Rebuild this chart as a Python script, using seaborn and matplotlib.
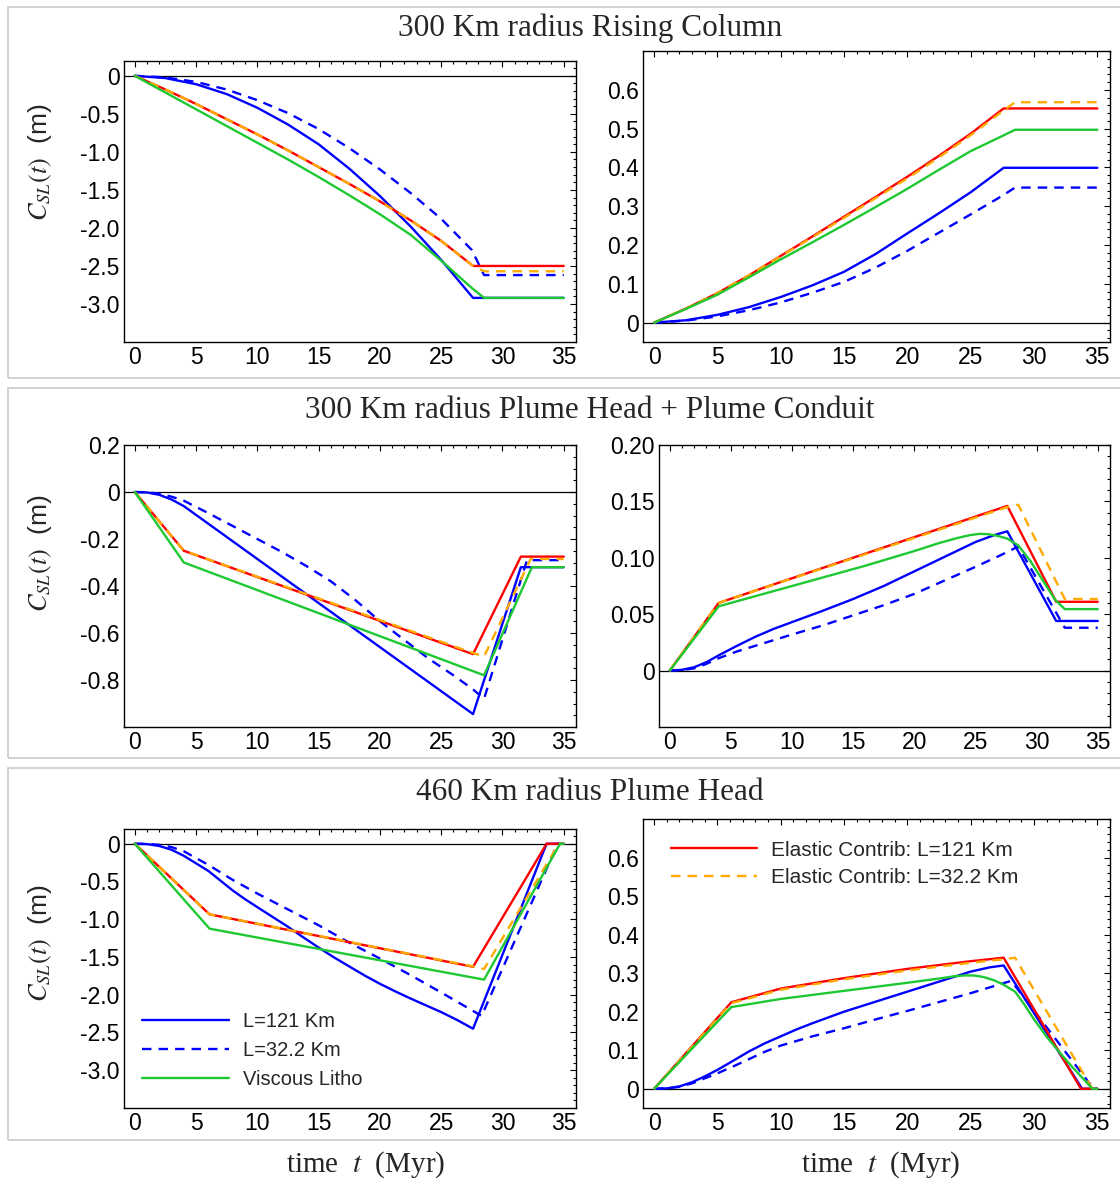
import numpy as np
import pandas as pd
import matplotlib
matplotlib.use("Agg")
import matplotlib.pyplot as plt
import seaborn as sns
from matplotlib.ticker import MultipleLocator, FixedLocator, FuncFormatter
from matplotlib.patches import Rectangle

# ---------------- data ----------------

titles = ["300 Km radius Rising Column",
          "300 Km radius Plume Head + Plume Conduit",
          "460 Km radius Plume Head"]

x_ticks = [0, 5, 10, 15, 20, 25, 30, 35]

# --- row 1 left : Rising Column, total signal
A_blue_t = [0, 2.5, 5, 7.5, 10, 12.5, 15, 17.5, 20, 22.5, 25, 27.6, 35]
A_blue = [0, -0.03, -0.11, -0.24, -0.42, -0.64, -0.9, -1.22, -1.58, -1.98, -2.42, -2.92, -2.92]
A_bdash_t = [0, 2.5, 5, 7.5, 10, 12.5, 15, 17.5, 20, 22.5, 25, 27.5, 28.5, 35]
A_bdash = [0, -0.02, -0.08, -0.18, -0.32, -0.49, -0.7, -0.95, -1.23, -1.54, -1.88, -2.29, -2.62, -2.62]
A_red_t = [0, 2.5, 5, 7.5, 10, 12.5, 15, 17.5, 20, 22.5, 25, 27.6, 35]
A_red = [0, -0.18, -0.37, -0.57, -0.77, -0.98, -1.2, -1.42, -1.65, -1.9, -2.17, -2.5, -2.5]
A_orng_t = [0, 2.5, 5, 7.5, 10, 12.5, 15, 17.5, 20, 22.5, 25, 27.6, 28.5, 35]
A_orng = [0, -0.18, -0.37, -0.57, -0.77, -0.98, -1.2, -1.42, -1.65, -1.9, -2.17, -2.5, -2.57, -2.57]
A_grn_t = [0, 2.5, 5, 7.5, 10, 12.5, 15, 17.5, 20, 22.5, 25, 27.5, 28.5, 35]
A_grn = [0, -0.22, -0.44, -0.66, -0.88, -1.1, -1.33, -1.57, -1.82, -2.09, -2.43, -2.79, -2.92, -2.92]
A_yticks = [0, -0.5, -1.0, -1.5, -2.0, -2.5, -3.0]

# --- row 1 right : Rising Column, elastic part
B_blue_t = [0, 2.5, 5, 7.5, 10, 12.5, 15, 17.5, 20, 22.5, 25, 27.6, 35]
B_blue = [0, 0.006, 0.02, 0.04, 0.066, 0.096, 0.131, 0.177, 0.23, 0.282, 0.336, 0.399, 0.399]
B_bdash_t = [0, 2.5, 5, 7.5, 10, 12.5, 15, 17.5, 20, 22.5, 25, 27.5, 28.5, 35]
B_bdash = [0, 0.005, 0.016, 0.032, 0.052, 0.077, 0.105, 0.142, 0.185, 0.232, 0.279, 0.327, 0.348, 0.348]
B_red_t = [0, 2.5, 5, 7.5, 10, 12.5, 15, 17.5, 20, 22.5, 25, 27.6, 35]
B_red = [0, 0.036, 0.076, 0.122, 0.172, 0.222, 0.273, 0.324, 0.376, 0.43, 0.487, 0.552, 0.552]
B_orng_t = [0, 2.5, 5, 7.5, 10, 12.5, 15, 17.5, 20, 22.5, 25, 27.6, 28.5, 35]
B_orng = [0, 0.036, 0.076, 0.122, 0.171, 0.22, 0.27, 0.321, 0.372, 0.426, 0.483, 0.547, 0.568, 0.568]
B_grn_t = [0, 2.5, 5, 7.5, 10, 12.5, 15, 17.5, 20, 22.5, 25, 27.5, 28.5, 35]
B_grn = [0, 0.035, 0.072, 0.117, 0.163, 0.207, 0.252, 0.298, 0.345, 0.394, 0.442, 0.481, 0.497, 0.497]
B_yticks = [0, 0.1, 0.2, 0.3, 0.4, 0.5, 0.6]

# --- row 2 left : Plume Head + Conduit, total signal
C_blue_t = [0, 1, 2, 3, 4, 27.6, 31.5, 35]
C_blue = [0, -0.002, -0.012, -0.032, -0.06, -0.945, -0.32, -0.32]
C_bdash_t = [0, 1, 2, 3, 4, 6, 8, 10, 12, 14, 16, 18, 20, 22, 24, 26, 27.6, 28.5, 32, 35]
C_bdash = [0, -0.001, -0.007, -0.02, -0.037, -0.09, -0.145, -0.2, -0.255, -0.315, -0.38, -0.46, -0.55, -0.63, -0.71, -0.78, -0.84, -0.88, -0.29, -0.29]
C_red_t = [0, 4, 27.6, 31.5, 35]
C_red = [0, -0.25, -0.69, -0.275, -0.275]
C_orng_t = [0, 4, 27.6, 28.5, 32.3, 35]
C_orng = [0, -0.25, -0.685, -0.70, -0.285, -0.285]
C_grn_t = [0, 4, 28.5, 32.4, 35]
C_grn = [0, -0.30, -0.78, -0.32, -0.32]
C_yticks = [0.2, 0, -0.2, -0.4, -0.6, -0.8]

# --- row 2 right : Plume Head + Conduit, elastic part
D_blue_t = [0, 1, 2, 3, 4, 5.5, 7, 8.5, 10, 12.5, 15, 17.5, 20, 22.5, 25, 26.5, 27.6, 31.6, 35]
D_blue = [0, 0.0007, 0.003, 0.0075, 0.0135, 0.022, 0.03, 0.037, 0.043, 0.053, 0.0635, 0.075, 0.088, 0.101, 0.114, 0.12, 0.1235, 0.044, 0.044]
D_bdash_t = [0, 1, 2, 3, 4, 5.5, 7, 8.5, 10, 12.5, 15, 17.5, 20, 22.5, 25, 27, 28.5, 32.3, 35]
D_bdash = [0, 0.0005, 0.002, 0.006, 0.011, 0.017, 0.022, 0.027, 0.032, 0.04, 0.049, 0.058, 0.068, 0.08, 0.092, 0.102, 0.110, 0.038, 0.038]
D_red_t = [0, 4, 27.6, 31.6, 35]
D_red = [0, 0.060, 0.146, 0.061, 0.061]
D_orng_t = [0, 4, 27.6, 28.5, 32.3, 35]
D_orng = [0, 0.060, 0.145, 0.147, 0.0635, 0.0635]
D_grn_t = [0, 4, 8, 12, 16, 20, 22, 23.5, 24.5, 25.3, 26, 26.8, 27.6, 28.5, 29.5, 30.5, 31.5, 32.3, 35]
D_grn = [0, 0.057, 0.069, 0.081, 0.093, 0.106, 0.113, 0.1175, 0.1200, 0.1212, 0.1210, 0.1195, 0.117, 0.111, 0.097, 0.080, 0.063, 0.0545, 0.0545]
D_yticks = [0, 0.05, 0.10, 0.15, 0.20]

# --- row 3 left : Plume Head, total signal
E_blue_t = [0, 1, 2, 3, 4, 5, 6, 7, 8, 9, 10, 11.25, 12.5, 13.75, 15, 16.25, 17.5, 18.75, 20, 21.25, 22.5, 23.75, 25, 26.25, 27.6, 33.6, 35]
E_blue = [0, -0.005, -0.03, -0.08, -0.16, -0.26, -0.36, -0.49, -0.62, -0.735, -0.84, -0.97, -1.1, -1.24, -1.375, -1.505, -1.625, -1.745, -1.855, -1.955, -2.05, -2.14, -2.23, -2.33, -2.45, 0, 0]
E_bdash_t = [0, 1, 2, 3, 4, 5, 6, 7, 8, 9, 10, 11.25, 12.5, 13.75, 15, 17.5, 20, 22.5, 25, 28.3, 34.5, 35]
E_bdash = [0, -0.003, -0.015, -0.045, -0.10, -0.19, -0.28, -0.38, -0.48, -0.57, -0.66, -0.765, -0.87, -0.975, -1.08, -1.31, -1.52, -1.74, -1.97, -2.28, 0, 0]
E_red_t = [0, 6.1, 27.6, 33.6, 35]
E_red = [0, -0.935, -1.63, 0, 0]
E_orng_t = [0, 6.1, 27.6, 28.5, 34.6, 35]
E_orng = [0, -0.935, -1.625, -1.66, 0, 0]
E_grn_t = [0, 6.1, 28.5, 34.7, 35]
E_grn = [0, -1.125, -1.80, 0, 0]
E_yticks = [0, -0.5, -1.0, -1.5, -2.0, -2.5, -3.0]

# --- row 3 right : Plume Head, elastic part
F_blue_t = [0, 1, 2, 3, 4, 5, 6, 7.5, 8.75, 10, 11.25, 12.5, 15, 17.5, 20, 22.5, 25, 26.5, 27.6, 33.8, 35]
F_blue = [0, 0.001, 0.006, 0.017, 0.032, 0.049, 0.068, 0.097, 0.118, 0.136, 0.154, 0.17, 0.2, 0.226, 0.252, 0.278, 0.304, 0.315, 0.32, 0, 0]
F_bdash_t = [0, 1, 2, 3, 4, 5, 6.25, 7.5, 8.75, 10, 12.5, 15, 17.5, 20, 22.5, 25, 28.2, 34.7, 35]
F_bdash = [0, 0.001, 0.005, 0.014, 0.027, 0.04, 0.058, 0.077, 0.096, 0.112, 0.136, 0.157, 0.18, 0.202, 0.225, 0.248, 0.28, 0, 0]
F_red_t = [0, 6.1, 10, 15, 20, 25, 27.6, 33.7, 35]
F_red = [0, 0.2245, 0.26, 0.287, 0.311, 0.331, 0.340, 0, 0]
F_orng_t = [0, 6.1, 10, 15, 20, 25, 27.6, 28.5, 34.6, 35]
F_orng = [0, 0.222, 0.257, 0.284, 0.307, 0.327, 0.336, 0.34, 0, 0]
F_grn_t = [0, 6.1, 10, 15, 20, 22.5, 23.75, 24.5, 25.25, 26, 26.8, 27.6, 28.5, 29.25, 30, 31, 32, 33, 34, 34.6, 35]
F_grn = [0, 0.212, 0.233, 0.254, 0.275, 0.286, 0.292, 0.294, 0.294, 0.29, 0.282, 0.27, 0.252, 0.218, 0.18, 0.135, 0.095, 0.057, 0.022, 0, 0]
F_yticks = [0, 0.1, 0.2, 0.3, 0.4, 0.5, 0.6]

legend_left = ["L=121 Km", "L=32.2 Km", "Viscous Litho"]
legend_right = ["Elastic Contrib: L=121 Km", "Elastic Contrib: L=32.2 Km"]

# ---------------- style ----------------
sns.set_theme(style="white")
plt.rcParams['font.family'] = ['Liberation Sans', 'DejaVu Sans']
plt.rcParams['mathtext.fontset'] = 'stix'
plt.rcParams['axes.unicode_minus'] = False

BLUE = "#0000ff"
RED = "#ff0000"
ORANGE = "#ffaa00"
GREEN = "#1ec832"
DASH = (0, (4, 3))
LW = 1.7

W, H = 1120, 1184
fig = plt.figure(figsize=(W / 100, H / 100), dpi=100)


def box(x0, y0, x1, y1):
    # pixel coords (top-left origin) -> figure fraction
    return [x0 / W, 1 - y1 / H, (x1 - x0) / W, (y1 - y0) / H]


# grey panel frames
for top, bot in [(7, 378), (388, 758), (768, 1140)]:
    fig.patches.append(Rectangle((8 / W, 1 - bot / H), 1.2, (bot - top) / H,
                                 transform=fig.transFigure, fill=False,
                                 edgecolor="#cfcfcf", lw=1.3))

panels = [
    (box(124, 61, 576, 342), (A_blue_t, A_blue), (A_bdash_t, A_bdash), (A_red_t, A_red),
     (A_orng_t, A_orng), (A_grn_t, A_grn), (-3.5, 0.195), A_yticks, 0.1, 1),
    (box(643, 51, 1110, 342), (B_blue_t, B_blue), (B_bdash_t, B_bdash), (B_red_t, B_red),
     (B_orng_t, B_orng), (B_grn_t, B_grn), (-0.05, 0.70), B_yticks, 0.02, 1),
    (box(124, 445, 576, 727), (C_blue_t, C_blue), (C_bdash_t, C_bdash), (C_red_t, C_red),
     (C_orng_t, C_orng), (C_grn_t, C_grn), (-1.0, 0.2), C_yticks, 0.05, 1),
    (box(659, 445, 1110, 727), (D_blue_t, D_blue), (D_bdash_t, D_bdash), (D_red_t, D_red),
     (D_orng_t, D_orng), (D_grn_t, D_grn), (-0.05, 0.20), D_yticks, 0.01, 2),
    (box(124, 829, 576, 1108), (E_blue_t, E_blue), (E_bdash_t, E_bdash), (E_red_t, E_red),
     (E_orng_t, E_orng), (E_grn_t, E_grn), (-3.5, 0.195), E_yticks, 0.1, 1),
    (box(643, 819, 1110, 1108), (F_blue_t, F_blue), (F_bdash_t, F_bdash), (F_red_t, F_red),
     (F_orng_t, F_orng), (F_grn_t, F_grn), (-0.05, 0.70), F_yticks, 0.02, 1),
]

axes = []
for rect, blue, bdash, red, orng, grn, ylim, yt, yminor, dec in panels:
    ax = fig.add_axes(rect)
    ax.axhline(0, color="black", lw=0.9, zorder=1)
    sns.lineplot(x=blue[0], y=blue[1], ax=ax, color=BLUE, lw=LW, sort=False, estimator=None)
    sns.lineplot(x=bdash[0], y=bdash[1], ax=ax, color=BLUE, lw=LW, linestyle=DASH, sort=False, estimator=None)
    sns.lineplot(x=red[0], y=red[1], ax=ax, color=RED, lw=LW, sort=False, estimator=None)
    sns.lineplot(x=orng[0], y=orng[1], ax=ax, color=ORANGE, lw=LW, linestyle=DASH, sort=False, estimator=None)
    sns.lineplot(x=grn[0], y=grn[1], ax=ax, color=GREEN, lw=LW, sort=False, estimator=None)
    ax.set_xlim(-0.88, 36.0)
    ax.set_ylim(*ylim)
    ax.xaxis.set_major_locator(FixedLocator(x_ticks))
    ax.xaxis.set_minor_locator(MultipleLocator(1))
    ax.yaxis.set_major_locator(FixedLocator(yt))
    ax.yaxis.set_minor_locator(MultipleLocator(yminor))
    ax.yaxis.set_major_formatter(FuncFormatter(
        lambda v, p, d=dec: "0" if abs(v) < 1e-9 else f"{v:.{d}f}"))
    ax.xaxis.set_major_formatter(FuncFormatter(lambda v, p: f"{v:.0f}"))
    ax.tick_params(which="both", direction="in", top=True, right=True,
                   color="black", width=0.8, labelsize=16.5, labelcolor="black", pad=3)
    ax.tick_params(which="major", length=4.5)
    ax.tick_params(which="minor", length=2.5)
    for s in ax.spines.values():
        s.set_visible(True)
        s.set_color("black")
        s.set_linewidth(1.0)
    ax.set_xlabel("")
    ax.set_ylabel("")
    axes.append(ax)

# row titles
for y, t in zip([28, 410, 792], titles):
    fig.text(590 / W, 1 - y / H, t, ha="center", va="center", fontsize=22.5,
             family="Liberation Serif")

# y labels on the left column
for y in [162, 553, 943]:
    fig.text(40 / W, 1 - y / H, r"$C_{SL}(t)$  (m)", rotation=90, ha="center",
             va="center", fontsize=19)

# time labels
for x in [366, 881]:
    fig.text(x / W, 1 - 1165 / H, r"time  $t$  (Myr)", ha="center", va="center",
             fontsize=21, family="Liberation Serif")

# legends
h = axes[4].get_lines()
axes[4].legend([h[1], h[2], h[5]], legend_left, loc="upper left",
               bbox_to_anchor=(0.0, 0.41), frameon=False, fontsize=14.5,
               handlelength=4.3, labelspacing=0.5, handletextpad=0.7)
h = axes[5].get_lines()
axes[5].legend([h[3], h[4]], legend_right, loc="upper left",
               bbox_to_anchor=(0.02, 0.99), frameon=False, fontsize=15,
               handlelength=4.1, labelspacing=0.4, handletextpad=0.7)

fig.savefig("out.png", dpi=100)
